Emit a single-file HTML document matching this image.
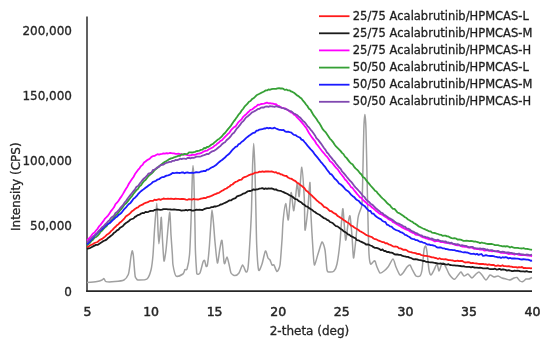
<!DOCTYPE html>
<html><head><meta charset="utf-8"><title>XRPD Acalabrutinib/HPMCAS</title>
<style>
html,body{margin:0;padding:0;background:#fff;}
svg{display:block;}
text{font-family:'DejaVu Sans', 'Liberation Sans', sans-serif;font-size:12px;fill:#262626;stroke:#262626;stroke-width:0.3px;}
.xt{font-size:12.5px;fill:#262626;stroke-width:0.5px;}
.lg{font-size:11.5px;fill:#1a1a1a;}
</style></head><body>
<svg width="550" height="346" viewBox="0 0 550 346">
<rect width="550" height="346" fill="#fff"/>
<path d="M87,16.5 V291.2" fill="none" stroke="#505050" stroke-width="1.8"/><path d="M86.1,291.2 H532" fill="none" stroke="#262626" stroke-width="1.8"/>
<path d="M87.0,282.6 C88.2,282.5 95.2,281.9 97.0,281.6 C98.8,281.3 101.2,280.4 102.0,280.0 C102.8,279.6 103.5,278.4 104.0,278.6 C104.5,278.8 104.7,281.2 106.0,281.6 C107.3,282.0 112.9,281.8 115.0,281.6 C117.1,281.4 122.4,280.8 124.0,280.0 C125.6,279.2 127.6,276.1 128.3,274.5 C129.0,272.9 129.5,268.0 129.8,266.0 C130.1,264.0 130.6,258.8 130.9,257.0 C131.2,255.2 131.9,250.9 132.2,250.8 C132.5,250.7 133.2,254.2 133.4,256.0 C133.6,257.8 134.0,263.6 134.2,266.0 C134.4,268.4 134.9,275.0 135.2,276.5 C135.5,278.0 136.2,278.4 136.5,278.8 C136.8,279.2 136.8,280.0 138.0,280.0 C139.2,280.0 145.5,280.2 147.0,279.0 C148.5,277.8 150.3,272.8 151.0,270.0 C151.7,267.2 152.6,259.7 153.0,255.0 C153.4,250.3 154.1,236.0 154.5,230.0 C154.9,224.0 156.4,203.2 156.8,203.2 C157.2,203.2 157.8,225.3 158.0,230.0 C158.2,234.7 158.6,243.7 158.9,243.7 C159.2,243.7 160.0,233.1 160.3,230.0 C160.6,226.9 161.0,216.2 161.3,217.4 C161.6,218.6 162.2,234.9 162.5,240.0 C162.8,245.1 163.6,259.8 164.0,261.0 C164.4,262.2 165.5,253.8 166.0,250.0 C166.5,246.2 167.6,232.4 168.0,228.0 C168.4,223.6 169.5,211.5 169.8,212.3 C170.2,213.1 170.7,230.0 171.0,235.0 C171.3,240.0 172.2,251.5 172.4,255.0 C172.6,258.5 172.6,262.6 173.0,265.0 C173.4,267.4 174.8,274.9 176.0,276.0 C177.2,277.1 181.9,274.7 183.0,274.0 C184.1,273.3 184.5,270.2 185.0,269.6 C185.5,269.0 186.5,270.7 187.0,269.0 C187.5,267.3 189.0,260.5 189.5,255.0 C190.0,249.5 190.7,230.8 191.0,222.0 C191.3,213.2 192.0,186.6 192.2,180.0 C192.4,173.4 192.8,165.6 193.0,165.6 C193.2,165.6 193.7,173.4 193.9,180.0 C194.1,186.6 194.7,213.8 194.9,222.0 C195.1,230.2 195.2,244.4 195.4,250.0 C195.6,255.6 196.3,267.2 196.5,270.0 C196.7,272.8 196.6,273.6 197.0,274.0 C197.4,274.4 199.3,274.4 200.0,273.0 C200.7,271.6 202.5,263.5 203.0,262.0 C203.5,260.5 204.2,259.9 204.6,260.4 C204.9,260.9 205.7,265.5 206.0,266.0 C206.3,266.5 207.0,267.3 207.4,265.0 C207.8,262.7 209.0,251.0 209.4,246.0 C209.8,241.0 210.7,226.2 211.0,222.0 C211.3,217.8 211.7,210.0 212.0,210.0 C212.3,210.0 213.1,218.3 213.4,222.0 C213.8,225.7 214.5,237.2 215.0,242.0 C215.5,246.8 216.8,262.3 217.4,263.0 C218.0,263.7 219.5,250.6 220.0,248.0 C220.5,245.4 221.5,238.8 222.0,240.4 C222.5,242.0 223.7,259.4 224.0,262.0 C224.3,264.6 224.7,263.6 225.0,263.0 C225.3,262.4 226.5,256.9 227.0,257.0 C227.5,257.1 228.5,262.1 229.0,264.0 C229.5,265.9 230.3,271.6 231.0,273.0 C231.7,274.4 234.1,275.6 235.0,275.6 C235.9,275.6 238.1,274.2 239.0,273.0 C239.9,271.8 241.8,265.1 242.6,265.0 C243.4,264.9 245.4,271.6 246.0,272.0 C246.6,272.4 247.5,271.7 248.0,268.0 C248.5,264.3 249.6,246.8 250.0,240.0 C250.4,233.2 251.2,218.8 251.5,210.0 C251.8,201.2 252.3,172.8 252.6,165.0 C252.9,157.2 253.4,143.5 253.7,143.5 C254.0,143.5 254.5,157.2 254.8,165.0 C255.1,172.8 255.7,200.7 255.9,210.0 C256.1,219.3 256.4,238.0 256.7,245.0 C257.0,252.0 258.0,267.8 258.6,270.0 C259.2,272.2 261.2,266.2 262.0,264.0 C262.8,261.8 264.7,251.7 265.4,251.0 C266.1,250.3 267.5,256.9 268.0,258.0 C268.5,259.1 269.5,259.2 270.0,260.0 C270.5,260.8 271.5,264.4 272.0,265.0 C272.5,265.6 273.4,264.2 274.0,265.0 C274.6,265.8 276.3,271.6 277.0,271.6 C277.7,271.6 279.4,268.7 280.0,265.0 C280.6,261.3 281.6,245.0 282.0,240.0 C282.4,235.0 282.6,226.2 283.0,222.0 C283.4,217.8 285.1,203.8 285.7,203.6 C286.3,203.4 287.7,221.3 288.3,220.0 C288.9,218.7 290.5,193.6 291.1,192.5 C291.7,191.4 293.1,211.8 293.8,210.7 C294.5,209.6 296.6,185.1 297.2,183.4 C297.8,181.7 298.7,198.4 299.2,196.5 C299.7,194.6 301.2,167.0 301.8,167.2 C302.4,167.4 303.9,191.3 304.3,198.6 C304.7,205.9 304.6,228.4 305.0,230.0 C305.4,231.6 307.0,217.6 307.6,212.0 C308.2,206.4 309.6,181.9 310.0,182.4 C310.4,182.9 310.6,208.1 311.0,216.0 C311.4,223.9 312.6,244.3 313.0,250.0 C313.4,255.7 313.8,264.5 314.4,265.0 C315.0,265.5 317.1,256.7 318.0,254.0 C318.9,251.3 321.2,242.5 322.0,242.0 C322.8,241.5 324.4,246.7 325.0,250.0 C325.6,253.3 326.5,267.4 327.0,270.0 C327.5,272.6 328.2,271.9 329.0,272.0 C329.8,272.1 333.1,271.9 334.0,271.0 C334.9,270.1 336.3,267.4 337.0,264.0 C337.7,260.6 339.5,246.9 340.0,242.0 C340.5,237.1 341.1,225.8 341.5,222.0 C341.9,218.2 342.5,206.9 343.0,209.0 C343.5,211.1 345.0,238.2 345.6,240.0 C346.2,241.8 347.5,226.8 348.0,224.0 C348.5,221.2 349.5,214.6 350.0,216.0 C350.5,217.4 351.6,231.1 352.0,236.0 C352.4,240.9 353.1,257.3 353.5,258.0 C353.9,258.7 355.1,246.7 355.6,242.0 C356.1,237.3 357.5,221.6 358.0,218.0 C358.5,214.4 359.5,212.6 360.0,211.0 C360.5,209.4 361.7,208.2 362.0,204.0 C362.3,199.8 362.6,183.6 362.8,175.0 C363.0,166.4 363.6,137.1 363.8,130.0 C364.0,122.9 364.6,114.5 364.9,114.5 C365.2,114.5 365.8,122.9 366.0,130.0 C366.2,137.1 366.8,164.5 367.0,175.0 C367.2,185.5 367.8,210.8 368.0,220.0 C368.2,229.2 368.7,248.9 369.0,254.0 C369.3,259.1 370.0,263.1 370.5,264.0 C371.0,264.9 372.5,262.4 373.0,262.0 C373.5,261.6 374.5,260.4 375.0,261.0 C375.5,261.6 376.4,265.6 377.0,267.0 C377.6,268.4 379.2,272.5 380.0,273.0 C380.8,273.5 383.1,271.7 384.0,271.0 C384.9,270.3 386.9,268.4 388.0,267.0 C389.1,265.6 392.1,259.0 393.0,259.0 C393.9,259.0 395.2,265.1 396.0,267.0 C396.8,268.9 399.2,274.3 400.0,275.0 C400.8,275.7 402.2,273.9 403.0,273.0 C403.8,272.1 406.2,267.9 407.0,267.0 C407.8,266.1 409.4,264.8 410.0,265.0 C410.6,265.2 411.3,267.7 412.0,269.0 C412.7,270.3 415.1,275.2 416.0,276.0 C416.9,276.8 419.3,276.7 420.0,276.0 C420.7,275.3 421.5,273.0 422.0,270.0 C422.5,267.0 423.6,252.8 424.0,250.0 C424.4,247.2 425.2,245.8 425.6,246.0 C426.0,246.2 426.6,249.2 427.0,252.0 C427.4,254.8 428.5,267.3 429.0,270.0 C429.5,272.7 430.4,275.0 431.0,275.0 C431.6,275.0 433.3,271.3 434.0,270.0 C434.7,268.7 436.4,263.9 437.0,264.0 C437.6,264.1 438.5,271.0 439.0,271.0 C439.5,271.0 441.1,265.1 441.6,264.2 C442.1,263.3 442.9,262.5 443.5,263.0 C444.1,263.5 445.8,267.2 446.5,268.5 C447.2,269.8 448.5,273.2 449.4,274.5 C450.3,275.8 453.4,279.4 454.5,279.3 C455.6,279.2 458.2,274.9 459.0,274.0 C459.8,273.1 460.4,271.8 461.0,272.0 C461.6,272.2 463.2,275.8 464.0,276.0 C464.8,276.2 467.1,273.8 468.0,274.0 C468.9,274.2 471.1,278.0 472.0,278.0 C472.9,278.0 475.2,274.7 476.0,274.0 C476.8,273.3 478.3,271.9 479.0,272.0 C479.7,272.1 481.2,274.1 482.0,275.0 C482.8,275.9 485.1,280.0 486.0,280.0 C486.9,280.0 489.1,275.4 490.0,275.0 C490.9,274.6 493.1,276.9 494.0,277.0 C494.9,277.1 497.1,275.9 498.0,276.0 C498.9,276.1 501.1,277.6 502.0,278.0 C502.9,278.4 505.1,278.8 506.0,279.0 C506.9,279.2 509.1,280.1 510.0,280.0 C510.9,279.9 513.2,278.3 514.0,278.0 C514.8,277.7 516.3,277.1 517.0,277.5 C517.7,277.9 519.3,280.5 520.0,281.0 C520.7,281.5 522.3,281.7 523.0,281.5 C523.7,281.3 525.3,279.3 526.0,279.0 C526.7,278.7 528.3,279.2 529.0,279.0 C529.7,278.8 531.6,277.7 532.0,277.5" fill="none" stroke="#a0a0a0" stroke-width="1.5" stroke-linejoin="round"/><path d="M87.0,247.2 L88.5,246.6 L90.0,245.6 L91.5,244.7 L93.0,244.0 L94.5,243.0 L96.0,242.5 L97.5,242.0 L99.0,240.6 L100.5,239.6 L102.0,238.9 L103.5,237.8 L105.0,236.6 L106.5,235.1 L108.0,234.1 L109.5,233.0 L111.0,231.1 L112.5,229.9 L114.0,228.1 L115.5,226.8 L117.0,225.2 L118.5,224.2 L120.0,222.4 L121.5,221.4 L123.0,219.9 L124.5,218.3 L126.0,216.2 L127.5,215.4 L129.0,214.2 L130.5,212.9 L132.0,211.2 L133.5,210.2 L135.0,208.9 L136.5,207.9 L138.0,207.4 L139.5,205.9 L141.0,205.2 L142.5,204.7 L144.0,203.5 L145.5,202.9 L147.0,202.4 L148.5,201.8 L150.0,200.9 L151.5,200.9 L153.0,200.9 L154.5,199.7 L156.0,200.1 L157.5,199.6 L159.0,199.2 L160.5,199.8 L162.0,199.2 L163.5,198.5 L165.0,198.8 L166.5,198.9 L168.0,198.6 L169.5,198.9 L171.0,198.6 L172.5,198.9 L174.0,199.2 L175.5,198.6 L177.0,198.9 L178.5,198.8 L180.0,199.1 L181.5,198.8 L183.0,199.0 L184.5,199.2 L186.0,199.7 L187.5,199.8 L189.0,199.1 L190.5,199.3 L192.0,199.7 L193.5,198.9 L195.0,199.3 L196.5,199.3 L198.0,199.5 L199.5,199.2 L201.0,198.6 L202.5,198.3 L204.0,198.0 L205.5,198.2 L207.0,197.2 L208.5,196.8 L210.0,196.5 L211.5,195.8 L213.0,195.2 L214.5,194.3 L216.0,193.9 L217.5,193.1 L219.0,192.8 L220.5,191.8 L222.0,190.8 L223.5,190.1 L225.0,189.0 L226.5,188.5 L228.0,187.2 L229.5,186.5 L231.0,185.0 L232.5,184.5 L234.0,183.0 L235.5,181.9 L237.0,181.5 L238.5,180.4 L240.0,179.8 L241.5,179.6 L243.0,177.8 L244.5,177.1 L246.0,176.6 L247.5,176.0 L249.0,175.1 L250.5,174.5 L252.0,174.2 L253.5,173.6 L255.0,172.7 L256.5,172.6 L258.0,172.3 L259.5,171.7 L261.0,171.8 L262.5,171.3 L264.0,171.8 L265.5,171.5 L267.0,171.5 L268.5,171.4 L270.0,171.6 L271.5,171.3 L273.0,171.8 L274.5,172.5 L276.0,172.1 L277.5,173.4 L279.0,173.1 L280.5,174.3 L282.0,174.4 L283.5,175.4 L285.0,175.8 L286.5,176.0 L288.0,177.5 L289.5,178.3 L291.0,178.6 L292.5,179.4 L294.0,180.4 L295.5,181.1 L297.0,182.7 L298.5,183.4 L300.0,184.7 L301.5,185.7 L303.0,187.1 L304.5,188.2 L306.0,190.4 L307.5,191.4 L309.0,193.2 L310.5,194.4 L312.0,195.7 L313.5,197.3 L315.0,198.6 L316.5,200.2 L318.0,201.4 L319.5,202.7 L321.0,203.6 L322.5,205.0 L324.0,206.9 L325.5,207.3 L327.0,208.2 L328.5,209.7 L330.0,211.0 L331.5,211.2 L333.0,212.5 L334.5,213.4 L336.0,214.1 L337.5,215.9 L339.0,216.7 L340.5,217.8 L342.0,218.6 L343.5,220.0 L345.0,220.8 L346.5,222.0 L348.0,222.7 L349.5,223.7 L351.0,225.6 L352.5,226.0 L354.0,227.3 L355.5,228.2 L357.0,229.0 L358.5,230.0 L360.0,231.2 L361.5,231.9 L363.0,232.8 L364.5,233.7 L366.0,234.9 L367.5,235.5 L369.0,236.2 L370.5,236.7 L372.0,237.1 L373.5,238.5 L375.0,239.2 L376.5,239.4 L378.0,240.3 L379.5,240.9 L381.0,241.5 L382.5,242.1 L384.0,242.2 L385.5,243.4 L387.0,243.1 L388.5,244.3 L390.0,244.7 L391.5,245.4 L393.0,246.3 L394.5,246.7 L396.0,246.5 L397.5,246.9 L399.0,248.3 L400.5,248.3 L402.0,249.1 L403.5,249.9 L405.0,249.7 L406.5,250.1 L408.0,251.3 L409.5,251.8 L411.0,252.1 L412.5,252.7 L414.0,252.9 L415.5,253.1 L417.0,253.9 L418.5,254.0 L420.0,254.2 L421.5,255.2 L423.0,255.4 L424.5,255.9 L426.0,255.8 L427.5,256.2 L429.0,256.4 L430.5,256.8 L432.0,257.4 L433.5,257.4 L435.0,258.0 L436.5,258.2 L438.0,259.0 L439.5,258.2 L441.0,259.1 L442.5,259.1 L444.0,259.3 L445.5,259.1 L447.0,259.6 L448.5,260.2 L450.0,260.2 L451.5,260.4 L453.0,260.5 L454.5,261.2 L456.0,261.0 L457.5,260.6 L459.0,261.2 L460.5,261.0 L462.0,260.8 L463.5,261.8 L465.0,262.5 L466.5,262.3 L468.0,262.1 L469.5,262.4 L471.0,263.2 L472.5,263.0 L474.0,263.2 L475.5,263.3 L477.0,263.5 L478.5,263.9 L480.0,264.0 L481.5,264.0 L483.0,263.8 L484.5,264.4 L486.0,264.2 L487.5,264.9 L489.0,264.3 L490.5,264.8 L492.0,265.0 L493.5,264.8 L495.0,265.8 L496.5,265.9 L498.0,265.4 L499.5,265.9 L501.0,266.0 L502.5,265.2 L504.0,266.2 L505.5,266.2 L507.0,266.4 L508.5,266.2 L510.0,266.5 L511.5,266.7 L513.0,267.2 L514.5,267.1 L516.0,267.1 L517.5,267.7 L519.0,267.1 L520.5,267.3 L522.0,267.0 L523.5,268.1 L525.0,268.0 L526.5,268.1 L528.0,268.2 L529.5,268.1 L531.0,268.3 L532.0,268.2" fill="none" stroke="#ff1a1a" stroke-width="1.8" stroke-linejoin="round"/><path d="M87.0,249.0 L88.5,248.4 L90.0,248.1 L91.5,247.2 L93.0,246.4 L94.5,245.6 L96.0,244.9 L97.5,244.9 L99.0,243.9 L100.5,243.0 L102.0,242.1 L103.5,241.0 L105.0,240.4 L106.5,239.6 L108.0,238.1 L109.5,237.0 L111.0,235.8 L112.5,234.6 L114.0,232.8 L115.5,231.9 L117.0,230.4 L118.5,229.6 L120.0,227.8 L121.5,226.9 L123.0,226.0 L124.5,224.2 L126.0,222.9 L127.5,222.0 L129.0,220.9 L130.5,219.5 L132.0,219.0 L133.5,218.5 L135.0,216.9 L136.5,216.1 L138.0,215.1 L139.5,214.7 L141.0,213.6 L142.5,213.0 L144.0,213.1 L145.5,211.9 L147.0,212.1 L148.5,211.8 L150.0,211.0 L151.5,210.8 L153.0,210.9 L154.5,210.0 L156.0,209.7 L157.5,209.3 L159.0,209.6 L160.5,209.9 L162.0,209.7 L163.5,209.1 L165.0,209.1 L166.5,209.2 L168.0,209.4 L169.5,209.3 L171.0,209.5 L172.5,209.6 L174.0,209.5 L175.5,209.7 L177.0,209.9 L178.5,209.9 L180.0,210.1 L181.5,210.6 L183.0,210.3 L184.5,210.3 L186.0,209.8 L187.5,210.5 L189.0,209.8 L190.5,209.9 L192.0,210.6 L193.5,210.5 L195.0,210.2 L196.5,209.6 L198.0,209.8 L199.5,209.6 L201.0,209.8 L202.5,210.0 L204.0,209.2 L205.5,208.6 L207.0,208.2 L208.5,208.2 L210.0,207.8 L211.5,207.1 L213.0,207.1 L214.5,206.3 L216.0,206.5 L217.5,206.0 L219.0,205.5 L220.5,204.5 L222.0,204.3 L223.5,203.5 L225.0,202.8 L226.5,202.2 L228.0,201.2 L229.5,200.4 L231.0,200.4 L232.5,199.3 L234.0,198.6 L235.5,198.1 L237.0,196.4 L238.5,195.9 L240.0,195.4 L241.5,194.7 L243.0,193.7 L244.5,193.4 L246.0,192.5 L247.5,191.4 L249.0,191.0 L250.5,191.0 L252.0,190.4 L253.5,189.3 L255.0,189.9 L256.5,189.3 L258.0,189.3 L259.5,188.6 L261.0,188.4 L262.5,188.1 L264.0,189.1 L265.5,188.3 L267.0,188.9 L268.5,188.3 L270.0,188.7 L271.5,188.3 L273.0,188.9 L274.5,189.6 L276.0,189.3 L277.5,190.4 L279.0,190.7 L280.5,190.8 L282.0,191.5 L283.5,192.1 L285.0,192.9 L286.5,193.5 L288.0,194.2 L289.5,195.2 L291.0,195.9 L292.5,196.7 L294.0,198.0 L295.5,199.2 L297.0,199.4 L298.5,200.9 L300.0,201.7 L301.5,202.6 L303.0,204.2 L304.5,204.8 L306.0,206.4 L307.5,206.7 L309.0,208.1 L310.5,208.9 L312.0,209.8 L313.5,211.2 L315.0,212.0 L316.5,213.2 L318.0,214.0 L319.5,214.7 L321.0,215.9 L322.5,217.0 L324.0,218.2 L325.5,218.6 L327.0,219.8 L328.5,220.3 L330.0,222.0 L331.5,222.5 L333.0,223.3 L334.5,224.8 L336.0,226.2 L337.5,226.4 L339.0,227.6 L340.5,228.7 L342.0,229.7 L343.5,231.2 L345.0,231.9 L346.5,232.9 L348.0,234.3 L349.5,234.9 L351.0,236.2 L352.5,236.8 L354.0,237.6 L355.5,238.3 L357.0,240.2 L358.5,240.3 L360.0,241.2 L361.5,241.9 L363.0,242.6 L364.5,243.3 L366.0,244.5 L367.5,244.3 L369.0,244.7 L370.5,245.5 L372.0,246.0 L373.5,247.2 L375.0,247.8 L376.5,247.8 L378.0,248.3 L379.5,249.1 L381.0,250.2 L382.5,249.4 L384.0,251.0 L385.5,251.0 L387.0,252.1 L388.5,251.9 L390.0,252.6 L391.5,252.6 L393.0,253.2 L394.5,254.3 L396.0,254.5 L397.5,254.5 L399.0,254.8 L400.5,254.8 L402.0,255.6 L403.5,256.1 L405.0,256.4 L406.5,256.8 L408.0,256.9 L409.5,257.6 L411.0,258.0 L412.5,258.8 L414.0,259.3 L415.5,259.1 L417.0,259.3 L418.5,259.9 L420.0,260.1 L421.5,260.4 L423.0,261.0 L424.5,261.0 L426.0,261.8 L427.5,261.9 L429.0,262.2 L430.5,262.4 L432.0,262.4 L433.5,262.6 L435.0,263.0 L436.5,263.1 L438.0,263.6 L439.5,263.7 L441.0,263.5 L442.5,264.1 L444.0,263.9 L445.5,264.3 L447.0,264.6 L448.5,264.2 L450.0,265.0 L451.5,265.2 L453.0,265.3 L454.5,265.4 L456.0,265.6 L457.5,265.6 L459.0,265.9 L460.5,266.0 L462.0,266.3 L463.5,266.1 L465.0,266.7 L466.5,266.8 L468.0,266.8 L469.5,266.9 L471.0,267.3 L472.5,266.8 L474.0,267.5 L475.5,267.6 L477.0,267.7 L478.5,267.9 L480.0,267.7 L481.5,267.9 L483.0,268.3 L484.5,268.4 L486.0,268.4 L487.5,268.1 L489.0,268.8 L490.5,269.1 L492.0,269.2 L493.5,269.1 L495.0,268.7 L496.5,269.6 L498.0,269.4 L499.5,268.8 L501.0,269.8 L502.5,269.4 L504.0,269.5 L505.5,269.9 L507.0,270.6 L508.5,270.2 L510.0,270.5 L511.5,271.0 L513.0,271.1 L514.5,270.7 L516.0,270.8 L517.5,270.6 L519.0,270.8 L520.5,271.3 L522.0,271.3 L523.5,271.3 L525.0,271.7 L526.5,271.2 L528.0,271.6 L529.5,271.9 L531.0,271.9 L532.0,272.1" fill="none" stroke="#1a1a1a" stroke-width="1.8" stroke-linejoin="round"/><path d="M87.0,240.7 L88.5,238.9 L90.0,237.5 L91.5,235.4 L93.0,233.5 L94.5,232.5 L96.0,230.5 L97.5,228.8 L99.0,226.4 L100.5,224.9 L102.0,222.9 L103.5,220.9 L105.0,218.6 L106.5,217.2 L108.0,215.6 L109.5,213.4 L111.0,211.1 L112.5,209.2 L114.0,207.3 L115.5,204.1 L117.0,202.7 L118.5,200.7 L120.0,198.4 L121.5,196.4 L123.0,193.9 L124.5,191.2 L126.0,188.7 L127.5,186.4 L129.0,183.5 L130.5,181.2 L132.0,179.1 L133.5,177.0 L135.0,174.1 L136.5,172.0 L138.0,169.9 L139.5,168.3 L141.0,166.1 L142.5,164.9 L144.0,162.6 L145.5,161.5 L147.0,160.2 L148.5,159.4 L150.0,158.4 L151.5,156.8 L153.0,156.2 L154.5,155.9 L156.0,155.0 L157.5,154.2 L159.0,154.6 L160.5,154.1 L162.0,153.8 L163.5,153.3 L165.0,153.6 L166.5,153.2 L168.0,153.5 L169.5,153.0 L171.0,153.0 L172.5,153.4 L174.0,153.3 L175.5,153.8 L177.0,153.9 L178.5,153.7 L180.0,154.1 L181.5,154.2 L183.0,154.7 L184.5,154.4 L186.0,154.6 L187.5,155.1 L189.0,155.5 L190.5,155.4 L192.0,154.8 L193.5,154.7 L195.0,154.9 L196.5,154.2 L198.0,153.6 L199.5,153.5 L201.0,153.2 L202.5,152.2 L204.0,151.4 L205.5,150.8 L207.0,150.7 L208.5,149.5 L210.0,148.8 L211.5,148.0 L213.0,147.2 L214.5,145.8 L216.0,145.0 L217.5,143.4 L219.0,142.4 L220.5,140.9 L222.0,140.2 L223.5,138.5 L225.0,136.8 L226.5,135.4 L228.0,133.9 L229.5,132.6 L231.0,130.2 L232.5,128.7 L234.0,127.2 L235.5,126.4 L237.0,124.2 L238.5,122.1 L240.0,120.7 L241.5,119.4 L243.0,117.1 L244.5,115.5 L246.0,114.4 L247.5,112.8 L249.0,111.5 L250.5,109.9 L252.0,109.5 L253.5,108.3 L255.0,107.0 L256.5,106.2 L258.0,104.7 L259.5,104.8 L261.0,104.0 L262.5,103.8 L264.0,103.6 L265.5,103.1 L267.0,102.6 L268.5,103.3 L270.0,103.1 L271.5,103.5 L273.0,103.7 L274.5,104.2 L276.0,104.1 L277.5,105.7 L279.0,106.0 L280.5,106.9 L282.0,107.9 L283.5,108.1 L285.0,108.3 L286.5,109.4 L288.0,110.1 L289.5,111.3 L291.0,112.4 L292.5,112.9 L294.0,114.8 L295.5,115.5 L297.0,117.4 L298.5,118.8 L300.0,120.3 L301.5,122.1 L303.0,123.9 L304.5,125.8 L306.0,127.6 L307.5,130.3 L309.0,133.0 L310.5,135.3 L312.0,137.4 L313.5,139.4 L315.0,141.2 L316.5,144.0 L318.0,145.7 L319.5,147.8 L321.0,149.7 L322.5,151.7 L324.0,153.3 L325.5,155.3 L327.0,156.7 L328.5,158.7 L330.0,161.2 L331.5,162.2 L333.0,163.9 L334.5,165.9 L336.0,167.8 L337.5,169.1 L339.0,171.2 L340.5,173.5 L342.0,175.2 L343.5,177.1 L345.0,179.5 L346.5,180.8 L348.0,182.9 L349.5,184.6 L351.0,187.1 L352.5,187.9 L354.0,190.1 L355.5,191.9 L357.0,193.9 L358.5,195.5 L360.0,197.3 L361.5,197.9 L363.0,200.1 L364.5,201.2 L366.0,202.5 L367.5,204.2 L369.0,205.0 L370.5,205.9 L372.0,207.6 L373.5,208.5 L375.0,209.9 L376.5,211.3 L378.0,212.3 L379.5,213.7 L381.0,214.2 L382.5,214.8 L384.0,216.0 L385.5,216.9 L387.0,217.8 L388.5,219.2 L390.0,219.8 L391.5,220.4 L393.0,222.1 L394.5,222.7 L396.0,223.8 L397.5,224.6 L399.0,225.6 L400.5,226.3 L402.0,227.5 L403.5,228.1 L405.0,228.9 L406.5,229.7 L408.0,230.0 L409.5,231.1 L411.0,231.9 L412.5,232.8 L414.0,233.0 L415.5,234.7 L417.0,234.9 L418.5,235.1 L420.0,235.6 L421.5,236.7 L423.0,237.3 L424.5,237.6 L426.0,238.4 L427.5,238.6 L429.0,239.4 L430.5,239.4 L432.0,240.0 L433.5,240.7 L435.0,241.5 L436.5,240.8 L438.0,241.2 L439.5,241.4 L441.0,242.2 L442.5,241.9 L444.0,242.4 L445.5,242.9 L447.0,242.9 L448.5,243.2 L450.0,243.7 L451.5,243.5 L453.0,244.0 L454.5,244.6 L456.0,245.1 L457.5,245.3 L459.0,245.1 L460.5,245.8 L462.0,246.5 L463.5,246.7 L465.0,246.8 L466.5,246.8 L468.0,247.5 L469.5,247.4 L471.0,247.5 L472.5,247.9 L474.0,248.8 L475.5,248.7 L477.0,249.2 L478.5,248.9 L480.0,249.6 L481.5,249.4 L483.0,249.7 L484.5,250.7 L486.0,250.4 L487.5,250.3 L489.0,250.6 L490.5,251.0 L492.0,251.4 L493.5,251.2 L495.0,251.0 L496.5,251.6 L498.0,251.9 L499.5,252.2 L501.0,252.8 L502.5,252.7 L504.0,253.0 L505.5,252.7 L507.0,253.5 L508.5,254.0 L510.0,253.8 L511.5,253.9 L513.0,254.0 L514.5,254.7 L516.0,254.0 L517.5,254.4 L519.0,254.8 L520.5,255.0 L522.0,254.8 L523.5,255.2 L525.0,255.2 L526.5,255.4 L528.0,255.5 L529.5,255.4 L531.0,255.9 L532.0,256.3" fill="none" stroke="#ff00ff" stroke-width="1.8" stroke-linejoin="round"/><path d="M87.0,245.4 L88.5,244.1 L90.0,242.8 L91.5,240.8 L93.0,239.7 L94.5,237.8 L96.0,236.9 L97.5,235.8 L99.0,234.2 L100.5,231.9 L102.0,230.7 L103.5,228.9 L105.0,227.3 L106.5,226.2 L108.0,223.7 L109.5,222.8 L111.0,220.8 L112.5,219.5 L114.0,217.5 L115.5,215.5 L117.0,214.1 L118.5,212.4 L120.0,210.5 L121.5,208.8 L123.0,206.7 L124.5,204.4 L126.0,203.5 L127.5,201.6 L129.0,199.6 L130.5,197.7 L132.0,196.1 L133.5,193.8 L135.0,191.9 L136.5,190.2 L138.0,188.8 L139.5,186.3 L141.0,185.2 L142.5,182.9 L144.0,181.1 L145.5,180.1 L147.0,178.0 L148.5,176.0 L150.0,174.7 L151.5,173.5 L153.0,172.1 L154.5,170.2 L156.0,169.1 L157.5,167.8 L159.0,166.2 L160.5,165.3 L162.0,164.0 L163.5,162.8 L165.0,161.8 L166.5,161.0 L168.0,160.1 L169.5,159.1 L171.0,158.4 L172.5,158.2 L174.0,157.3 L175.5,156.9 L177.0,156.4 L178.5,155.7 L180.0,155.8 L181.5,154.5 L183.0,154.6 L184.5,153.9 L186.0,154.2 L187.5,153.8 L189.0,152.4 L190.5,152.4 L192.0,152.5 L193.5,152.2 L195.0,151.8 L196.5,151.2 L198.0,151.0 L199.5,150.6 L201.0,149.8 L202.5,149.6 L204.0,148.0 L205.5,148.3 L207.0,147.0 L208.5,146.9 L210.0,145.7 L211.5,144.5 L213.0,143.9 L214.5,142.4 L216.0,141.2 L217.5,139.8 L219.0,138.9 L220.5,137.6 L222.0,136.3 L223.5,134.3 L225.0,133.0 L226.5,131.0 L228.0,129.1 L229.5,127.4 L231.0,125.6 L232.5,123.2 L234.0,121.1 L235.5,119.1 L237.0,117.0 L238.5,114.7 L240.0,113.2 L241.5,110.7 L243.0,109.0 L244.5,106.7 L246.0,105.2 L247.5,103.6 L249.0,101.7 L250.5,101.0 L252.0,99.1 L253.5,98.3 L255.0,96.9 L256.5,95.3 L258.0,94.5 L259.5,93.8 L261.0,92.9 L262.5,92.2 L264.0,91.5 L265.5,90.4 L267.0,90.4 L268.5,89.4 L270.0,89.8 L271.5,89.1 L273.0,88.9 L274.5,88.8 L276.0,88.9 L277.5,88.3 L279.0,88.2 L280.5,88.5 L282.0,88.4 L283.5,88.9 L285.0,89.9 L286.5,89.5 L288.0,90.4 L289.5,90.3 L291.0,91.4 L292.5,91.9 L294.0,92.8 L295.5,94.0 L297.0,95.4 L298.5,96.1 L300.0,97.5 L301.5,98.6 L303.0,100.7 L304.5,102.3 L306.0,104.5 L307.5,106.2 L309.0,108.8 L310.5,109.8 L312.0,112.5 L313.5,115.1 L315.0,117.0 L316.5,119.1 L318.0,121.5 L319.5,123.4 L321.0,126.0 L322.5,128.9 L324.0,130.6 L325.5,132.1 L327.0,134.2 L328.5,136.4 L330.0,138.8 L331.5,140.2 L333.0,142.1 L334.5,144.5 L336.0,146.3 L337.5,147.8 L339.0,149.3 L340.5,150.9 L342.0,152.9 L343.5,154.1 L345.0,156.6 L346.5,157.9 L348.0,159.9 L349.5,161.9 L351.0,163.4 L352.5,164.3 L354.0,166.6 L355.5,168.4 L357.0,169.6 L358.5,171.2 L360.0,173.2 L361.5,174.5 L363.0,177.2 L364.5,177.8 L366.0,179.9 L367.5,181.9 L369.0,183.7 L370.5,185.5 L372.0,187.2 L373.5,188.8 L375.0,190.8 L376.5,191.5 L378.0,193.7 L379.5,195.1 L381.0,196.9 L382.5,198.4 L384.0,199.6 L385.5,201.1 L387.0,203.0 L388.5,204.2 L390.0,205.3 L391.5,207.4 L393.0,208.8 L394.5,208.9 L396.0,210.6 L397.5,212.5 L399.0,213.1 L400.5,214.0 L402.0,215.0 L403.5,216.0 L405.0,217.2 L406.5,218.1 L408.0,219.5 L409.5,220.2 L411.0,221.2 L412.5,221.9 L414.0,223.2 L415.5,223.9 L417.0,225.0 L418.5,226.3 L420.0,226.9 L421.5,227.8 L423.0,228.5 L424.5,229.1 L426.0,229.8 L427.5,230.4 L429.0,231.3 L430.5,231.3 L432.0,232.6 L433.5,232.8 L435.0,233.0 L436.5,233.6 L438.0,234.0 L439.5,234.7 L441.0,234.8 L442.5,235.8 L444.0,235.6 L445.5,235.6 L447.0,236.4 L448.5,236.4 L450.0,237.4 L451.5,238.1 L453.0,238.3 L454.5,238.1 L456.0,238.5 L457.5,239.6 L459.0,239.5 L460.5,239.6 L462.0,240.2 L463.5,240.9 L465.0,240.8 L466.5,240.6 L468.0,240.9 L469.5,241.2 L471.0,241.0 L472.5,241.1 L474.0,241.6 L475.5,241.5 L477.0,242.0 L478.5,242.3 L480.0,243.2 L481.5,242.5 L483.0,242.9 L484.5,243.2 L486.0,243.6 L487.5,244.0 L489.0,243.8 L490.5,244.0 L492.0,244.0 L493.5,244.5 L495.0,245.1 L496.5,245.2 L498.0,245.2 L499.5,245.6 L501.0,245.9 L502.5,246.3 L504.0,246.2 L505.5,246.5 L507.0,246.2 L508.5,246.6 L510.0,247.6 L511.5,246.7 L513.0,247.4 L514.5,247.8 L516.0,247.8 L517.5,247.8 L519.0,248.2 L520.5,248.4 L522.0,248.5 L523.5,248.1 L525.0,248.8 L526.5,248.8 L528.0,249.0 L529.5,249.4 L531.0,249.7 L532.0,249.9" fill="none" stroke="#35a035" stroke-width="1.8" stroke-linejoin="round"/><path d="M87.0,244.3 L88.5,242.9 L90.0,241.2 L91.5,239.5 L93.0,237.9 L94.5,235.9 L96.0,234.5 L97.5,233.3 L99.0,231.3 L100.5,230.5 L102.0,229.0 L103.5,227.7 L105.0,226.1 L106.5,225.1 L108.0,224.1 L109.5,223.2 L111.0,222.0 L112.5,220.4 L114.0,219.1 L115.5,217.6 L117.0,216.7 L118.5,215.1 L120.0,214.0 L121.5,212.8 L123.0,210.8 L124.5,208.8 L126.0,207.3 L127.5,205.5 L129.0,203.9 L130.5,202.9 L132.0,200.9 L133.5,198.7 L135.0,197.7 L136.5,196.2 L138.0,194.2 L139.5,192.6 L141.0,191.2 L142.5,190.1 L144.0,188.9 L145.5,187.8 L147.0,186.7 L148.5,185.6 L150.0,184.6 L151.5,183.4 L153.0,181.8 L154.5,181.4 L156.0,180.7 L157.5,179.6 L159.0,179.2 L160.5,178.1 L162.0,177.2 L163.5,177.2 L165.0,176.4 L166.5,175.6 L168.0,175.3 L169.5,174.8 L171.0,174.2 L172.5,172.9 L174.0,173.1 L175.5,172.9 L177.0,172.6 L178.5,172.8 L180.0,173.0 L181.5,172.5 L183.0,172.3 L184.5,173.3 L186.0,172.6 L187.5,172.4 L189.0,172.8 L190.5,172.9 L192.0,172.6 L193.5,173.0 L195.0,172.5 L196.5,172.2 L198.0,172.3 L199.5,172.3 L201.0,171.5 L202.5,171.4 L204.0,170.9 L205.5,171.2 L207.0,169.6 L208.5,169.6 L210.0,168.4 L211.5,167.5 L213.0,166.9 L214.5,166.0 L216.0,165.0 L217.5,163.6 L219.0,162.2 L220.5,161.0 L222.0,160.0 L223.5,158.7 L225.0,157.6 L226.5,155.9 L228.0,154.7 L229.5,153.5 L231.0,151.6 L232.5,149.7 L234.0,148.4 L235.5,146.9 L237.0,146.4 L238.5,144.3 L240.0,143.6 L241.5,142.0 L243.0,141.1 L244.5,139.6 L246.0,138.1 L247.5,136.9 L249.0,135.8 L250.5,134.8 L252.0,133.6 L253.5,132.8 L255.0,132.5 L256.5,130.7 L258.0,130.6 L259.5,129.6 L261.0,129.4 L262.5,129.2 L264.0,128.5 L265.5,128.5 L267.0,127.7 L268.5,128.4 L270.0,127.9 L271.5,128.3 L273.0,128.3 L274.5,127.7 L276.0,128.5 L277.5,129.1 L279.0,129.8 L280.5,129.8 L282.0,130.2 L283.5,130.0 L285.0,131.3 L286.5,131.8 L288.0,131.7 L289.5,132.2 L291.0,132.3 L292.5,133.7 L294.0,134.9 L295.5,135.1 L297.0,136.2 L298.5,137.0 L300.0,137.6 L301.5,139.6 L303.0,140.2 L304.5,142.0 L306.0,143.7 L307.5,145.6 L309.0,147.3 L310.5,149.1 L312.0,150.6 L313.5,152.4 L315.0,154.7 L316.5,156.4 L318.0,158.2 L319.5,160.1 L321.0,162.2 L322.5,163.7 L324.0,165.7 L325.5,167.4 L327.0,169.7 L328.5,171.6 L330.0,173.8 L331.5,174.4 L333.0,176.3 L334.5,178.5 L336.0,179.7 L337.5,181.3 L339.0,183.4 L340.5,184.3 L342.0,185.5 L343.5,187.0 L345.0,188.9 L346.5,190.3 L348.0,191.2 L349.5,192.7 L351.0,194.6 L352.5,195.9 L354.0,196.9 L355.5,198.7 L357.0,200.0 L358.5,200.7 L360.0,202.5 L361.5,204.0 L363.0,205.0 L364.5,205.9 L366.0,207.7 L367.5,209.3 L369.0,210.8 L370.5,211.0 L372.0,213.6 L373.5,213.7 L375.0,215.5 L376.5,216.7 L378.0,217.8 L379.5,218.6 L381.0,219.3 L382.5,221.0 L384.0,221.6 L385.5,222.1 L387.0,224.7 L388.5,225.1 L390.0,226.4 L391.5,226.6 L393.0,228.2 L394.5,229.2 L396.0,230.1 L397.5,230.5 L399.0,231.1 L400.5,232.2 L402.0,232.5 L403.5,233.4 L405.0,234.8 L406.5,235.2 L408.0,236.2 L409.5,237.0 L411.0,238.3 L412.5,238.8 L414.0,239.1 L415.5,240.1 L417.0,240.1 L418.5,240.9 L420.0,241.8 L421.5,241.7 L423.0,242.6 L424.5,242.8 L426.0,243.7 L427.5,244.6 L429.0,244.4 L430.5,245.1 L432.0,245.2 L433.5,245.5 L435.0,245.9 L436.5,247.1 L438.0,247.7 L439.5,247.5 L441.0,247.5 L442.5,248.3 L444.0,248.3 L445.5,249.0 L447.0,249.2 L448.5,249.5 L450.0,249.9 L451.5,249.9 L453.0,250.2 L454.5,250.1 L456.0,250.8 L457.5,250.8 L459.0,251.4 L460.5,251.5 L462.0,252.0 L463.5,252.4 L465.0,252.1 L466.5,252.5 L468.0,252.7 L469.5,253.4 L471.0,253.9 L472.5,253.9 L474.0,253.7 L475.5,254.5 L477.0,253.8 L478.5,254.9 L480.0,254.4 L481.5,254.0 L483.0,255.8 L484.5,255.7 L486.0,255.1 L487.5,255.7 L489.0,255.8 L490.5,256.0 L492.0,255.8 L493.5,256.2 L495.0,256.7 L496.5,256.8 L498.0,257.3 L499.5,257.1 L501.0,258.0 L502.5,257.2 L504.0,257.7 L505.5,257.2 L507.0,257.5 L508.5,258.5 L510.0,257.9 L511.5,258.5 L513.0,258.5 L514.5,258.3 L516.0,258.7 L517.5,258.7 L519.0,258.9 L520.5,259.4 L522.0,259.5 L523.5,259.2 L525.0,259.3 L526.5,259.7 L528.0,259.7 L529.5,260.2 L531.0,260.8 L532.0,260.4" fill="none" stroke="#1a1aff" stroke-width="1.8" stroke-linejoin="round"/><path d="M87.0,242.5 L88.5,241.1 L90.0,239.6 L91.5,238.2 L93.0,236.7 L94.5,235.3 L96.0,233.8 L97.5,232.6 L99.0,230.6 L100.5,229.1 L102.0,227.2 L103.5,226.4 L105.0,224.5 L106.5,223.3 L108.0,221.4 L109.5,220.1 L111.0,218.0 L112.5,216.7 L114.0,215.7 L115.5,212.9 L117.0,212.0 L118.5,210.5 L120.0,208.4 L121.5,206.7 L123.0,205.1 L124.5,202.6 L126.0,201.1 L127.5,198.7 L129.0,196.8 L130.5,194.9 L132.0,193.0 L133.5,191.1 L135.0,189.3 L136.5,186.8 L138.0,186.0 L139.5,183.9 L141.0,182.0 L142.5,180.0 L144.0,178.5 L145.5,177.2 L147.0,175.7 L148.5,173.6 L150.0,173.1 L151.5,172.5 L153.0,169.9 L154.5,169.6 L156.0,168.4 L157.5,167.3 L159.0,166.9 L160.5,165.2 L162.0,164.9 L163.5,164.6 L165.0,163.5 L166.5,162.8 L168.0,162.4 L169.5,161.8 L171.0,161.9 L172.5,160.8 L174.0,160.9 L175.5,159.9 L177.0,160.2 L178.5,159.7 L180.0,158.7 L181.5,159.2 L183.0,158.7 L184.5,158.6 L186.0,159.0 L187.5,158.0 L189.0,157.8 L190.5,158.3 L192.0,157.7 L193.5,157.9 L195.0,157.3 L196.5,156.7 L198.0,156.6 L199.5,156.7 L201.0,156.3 L202.5,155.6 L204.0,155.2 L205.5,154.6 L207.0,153.9 L208.5,154.1 L210.0,152.8 L211.5,151.7 L213.0,151.1 L214.5,150.6 L216.0,149.6 L217.5,148.3 L219.0,147.0 L220.5,146.0 L222.0,144.2 L223.5,143.0 L225.0,142.2 L226.5,140.3 L228.0,139.0 L229.5,137.6 L231.0,135.8 L232.5,133.8 L234.0,132.7 L235.5,130.4 L237.0,128.3 L238.5,126.8 L240.0,124.9 L241.5,122.7 L243.0,121.3 L244.5,119.6 L246.0,117.5 L247.5,116.6 L249.0,115.2 L250.5,113.9 L252.0,112.4 L253.5,111.7 L255.0,110.9 L256.5,110.0 L258.0,108.9 L259.5,108.8 L261.0,107.6 L262.5,107.5 L264.0,107.5 L265.5,106.6 L267.0,106.4 L268.5,106.8 L270.0,106.2 L271.5,106.3 L273.0,106.5 L274.5,106.9 L276.0,106.1 L277.5,106.7 L279.0,107.0 L280.5,107.3 L282.0,107.8 L283.5,108.2 L285.0,109.0 L286.5,109.2 L288.0,110.1 L289.5,110.9 L291.0,111.2 L292.5,112.3 L294.0,113.7 L295.5,114.2 L297.0,115.0 L298.5,116.4 L300.0,117.4 L301.5,119.2 L303.0,120.9 L304.5,122.0 L306.0,123.9 L307.5,126.1 L309.0,127.5 L310.5,129.6 L312.0,131.2 L313.5,133.3 L315.0,135.4 L316.5,138.3 L318.0,139.6 L319.5,141.6 L321.0,143.6 L322.5,145.8 L324.0,148.0 L325.5,149.9 L327.0,152.5 L328.5,153.9 L330.0,156.2 L331.5,157.9 L333.0,159.9 L334.5,161.2 L336.0,163.5 L337.5,165.4 L339.0,167.3 L340.5,168.6 L342.0,171.3 L343.5,172.8 L345.0,174.6 L346.5,176.5 L348.0,178.3 L349.5,180.3 L351.0,181.6 L352.5,183.4 L354.0,185.6 L355.5,187.3 L357.0,188.8 L358.5,190.5 L360.0,192.1 L361.5,194.0 L363.0,196.1 L364.5,197.0 L366.0,199.4 L367.5,200.7 L369.0,201.9 L370.5,203.7 L372.0,204.5 L373.5,205.8 L375.0,207.3 L376.5,208.8 L378.0,210.1 L379.5,211.2 L381.0,212.6 L382.5,213.0 L384.0,214.9 L385.5,215.4 L387.0,216.6 L388.5,217.7 L390.0,218.4 L391.5,219.3 L393.0,220.3 L394.5,221.5 L396.0,222.5 L397.5,223.4 L399.0,223.7 L400.5,224.6 L402.0,225.3 L403.5,226.5 L405.0,226.6 L406.5,228.3 L408.0,228.6 L409.5,229.3 L411.0,230.4 L412.5,231.4 L414.0,231.9 L415.5,232.9 L417.0,233.3 L418.5,234.4 L420.0,235.1 L421.5,235.3 L423.0,236.4 L424.5,236.6 L426.0,237.1 L427.5,237.3 L429.0,238.0 L430.5,238.8 L432.0,238.5 L433.5,239.5 L435.0,239.8 L436.5,240.1 L438.0,239.7 L439.5,240.7 L441.0,241.2 L442.5,241.1 L444.0,241.7 L445.5,241.3 L447.0,242.5 L448.5,242.4 L450.0,243.2 L451.5,242.7 L453.0,243.8 L454.5,243.8 L456.0,244.4 L457.5,244.2 L459.0,244.6 L460.5,245.8 L462.0,245.1 L463.5,245.5 L465.0,245.9 L466.5,245.9 L468.0,246.9 L469.5,247.3 L471.0,246.8 L472.5,246.8 L474.0,247.9 L475.5,248.2 L477.0,248.3 L478.5,248.7 L480.0,248.3 L481.5,248.8 L483.0,248.6 L484.5,248.8 L486.0,249.8 L487.5,249.5 L489.0,250.6 L490.5,250.2 L492.0,250.2 L493.5,250.8 L495.0,251.4 L496.5,251.2 L498.0,250.9 L499.5,251.6 L501.0,252.1 L502.5,251.7 L504.0,251.9 L505.5,252.6 L507.0,252.5 L508.5,252.4 L510.0,252.8 L511.5,252.9 L513.0,253.4 L514.5,253.5 L516.0,254.0 L517.5,254.0 L519.0,253.5 L520.5,254.2 L522.0,254.5 L523.5,254.5 L525.0,254.9 L526.5,254.5 L528.0,254.6 L529.5,255.3 L531.0,254.9 L532.0,254.7" fill="none" stroke="#8048b0" stroke-width="1.8" stroke-linejoin="round"/>
<text x="72" y="35.0" text-anchor="end">200,000</text><text x="72" y="99.9" text-anchor="end">150,000</text><text x="72" y="164.9" text-anchor="end">100,000</text><text x="72" y="229.9" text-anchor="end">50,000</text><text x="72" y="295.7" text-anchor="end">0</text>
<text x="87.5" y="316.3" text-anchor="middle" class="xt">5</text><text x="151.1" y="316.3" text-anchor="middle" class="xt">10</text><text x="214.6" y="316.3" text-anchor="middle" class="xt">15</text><text x="278.2" y="316.3" text-anchor="middle" class="xt">20</text><text x="341.8" y="316.3" text-anchor="middle" class="xt">25</text><text x="405.4" y="316.3" text-anchor="middle" class="xt">30</text><text x="468.9" y="316.3" text-anchor="middle" class="xt">35</text><text x="532.5" y="316.3" text-anchor="middle" class="xt">40</text>
<text x="309.5" y="334.6" text-anchor="middle">2-theta (deg)</text>
<text transform="translate(20,186.7) rotate(-90)" text-anchor="middle">Intensity (CPS)</text>
<line x1="319" y1="16.2" x2="349.5" y2="16.2" stroke="#ff1a1a" stroke-width="1.8"/><text x="352.8" y="19.7" class="lg">25/75 Acalabrutinib/HPMCAS-L</text><line x1="319" y1="33.3" x2="349.5" y2="33.3" stroke="#1a1a1a" stroke-width="1.8"/><text x="352.8" y="36.7" class="lg">25/75 Acalabrutinib/HPMCAS-M</text><line x1="319" y1="50.4" x2="349.5" y2="50.4" stroke="#ff00ff" stroke-width="1.8"/><text x="352.8" y="53.7" class="lg">25/75 Acalabrutinib/HPMCAS-H</text><line x1="319" y1="67.6" x2="349.5" y2="67.6" stroke="#35a035" stroke-width="1.8"/><text x="352.8" y="70.7" class="lg">50/50 Acalabrutinib/HPMCAS-L</text><line x1="319" y1="84.7" x2="349.5" y2="84.7" stroke="#1a1aff" stroke-width="1.8"/><text x="352.8" y="87.7" class="lg">50/50 Acalabrutinib/HPMCAS-M</text><line x1="319" y1="101.8" x2="349.5" y2="101.8" stroke="#8048b0" stroke-width="1.8"/><text x="352.8" y="104.7" class="lg">50/50 Acalabrutinib/HPMCAS-H</text>
</svg>
</body></html>
